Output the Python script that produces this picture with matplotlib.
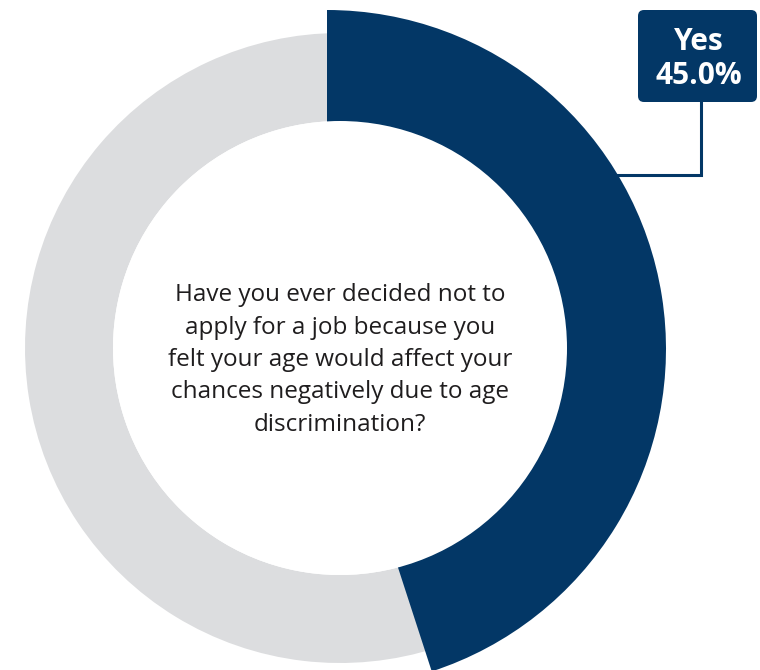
"""Donut chart: share of respondents who skipped a job application over age concerns."""

import matplotlib
matplotlib.use("Agg")
import matplotlib.pyplot as plt
from matplotlib.patches import FancyBboxPatch, Circle

plt.rcParams["font.family"] = ["Open Sans", "DejaVu Sans"]

# ---------------------------------------------------------------------------
# Data
# ---------------------------------------------------------------------------
answers = ["Yes", "No"]
shares = [45.0, 55.0]
question = ("Have you ever decided not to\n"
            "apply for a job because you\n"
            "felt your age would affect your\n"
            "chances negatively due to age\n"
            "discrimination?")

NAVY = "#033766"
GREY = "#DCDDDF"
TEXT_DARK = "#1F1D1E"

# canvas in pixel units (y measured upward)
W, H = 760, 670
CX, CY = 340, H - 348
R_OUT, R_IN = 315, 227

fig = plt.figure(figsize=(W / 100, H / 100), dpi=100)
ax = fig.add_axes([0, 0, 1, 1])

wedges, _ = ax.pie(
    shares, colors=[NAVY, GREY], startangle=90, counterclock=False,
    center=(CX, CY), radius=R_OUT,
    wedgeprops=dict(width=R_OUT - R_IN, linewidth=0),
)

# highlighted "Yes" slice sits a bit proud of the ring
hi = wedges[0]
hi.set_center((327, H - 349))
hi.set_radius(339)
hi.set_width(339 - 200)
hi.set_zorder(3)

# shared hole so both slices end on the same inner edge
ax.add_patch(Circle((CX, CY), R_IN, fc="white", ec="none", zorder=3.5))

ax.set_xlim(0, W)
ax.set_ylim(0, H)
ax.set_aspect("auto")
ax.axis("off")

# question in the hole
ax.text(340, H - 360, question, ha="center", va="center",
        fontsize=17.5, color=TEXT_DARK, linespacing=1.47, zorder=4)

# callout box for the highlighted answer
box = FancyBboxPatch((638, H - 102), 119, 92,
                     boxstyle="round,pad=0,rounding_size=6",
                     fc=NAVY, ec="none", zorder=4)
ax.add_patch(box)
ax.text(699, H - 42, answers[0], ha="center", va="center",
        fontsize=21.5, fontweight="bold", color="white", zorder=5)
ax.text(699, H - 76, f"{shares[0]:.1f}%", ha="center", va="center",
        fontsize=21.5, fontweight="bold", color="white", zorder=5)

# leader line from the box down to the slice
ax.plot([701, 701, 612], [H - 102, H - 175, H - 175],
        color=NAVY, lw=2.2, solid_joinstyle="miter", zorder=2)

fig.savefig("out.png", dpi=100)
